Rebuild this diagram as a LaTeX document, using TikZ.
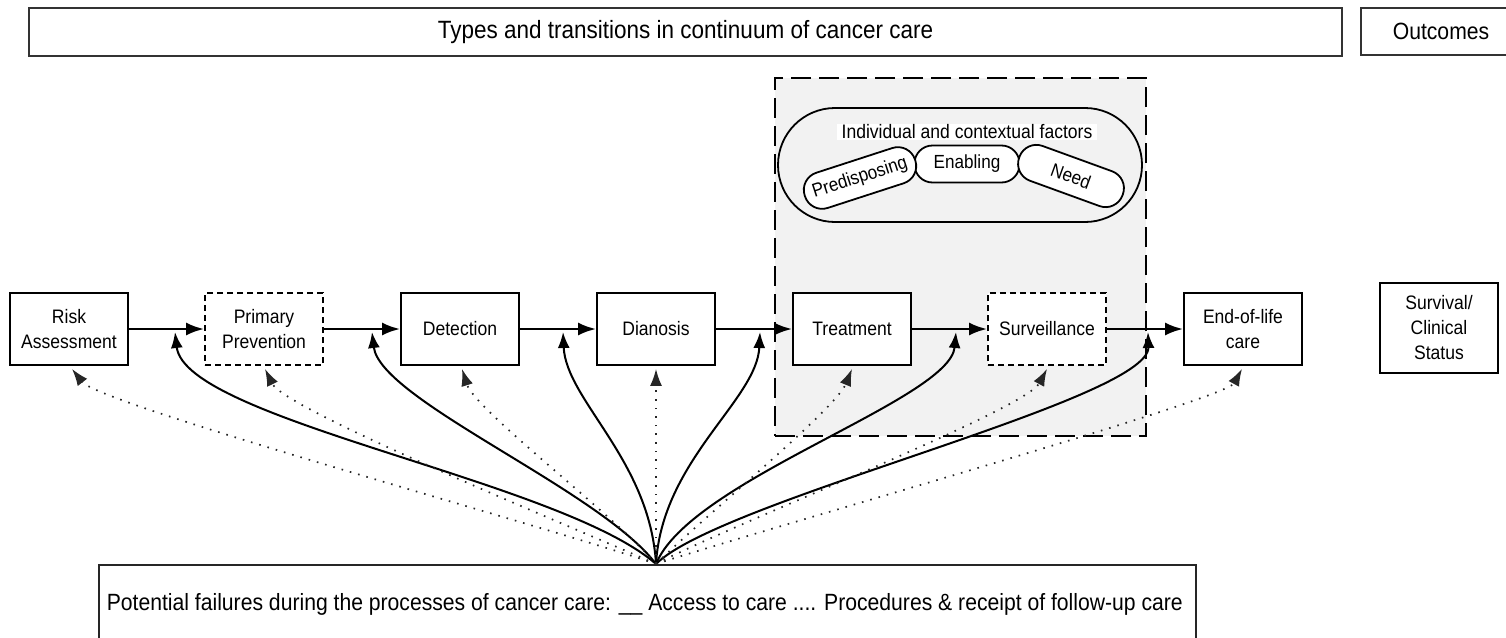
\documentclass[tikz,border=0pt]{standalone}
\usepackage{fontspec}
\setmainfont{Liberation Sans}[FakeStretch=0.9]
\usetikzlibrary{arrows.meta}
\begin{document}
\begin{tikzpicture}[x=1pt,y=-1pt,
  hdr/.style={draw=black!80, line width=1.6pt, inner sep=0pt, font=\fontsize{25}{29}\selectfont},
  stagebox/.style={draw, line width=1.8pt, fill=white, minimum width=118pt, minimum height=72pt,
    align=center, inner sep=2pt, font=\fontsize{19.5}{25}\selectfont},
  dstagebox/.style={stagebox, dash pattern=on 6pt off 4pt},
  pill/.style={draw, line width=1.8pt, fill=white, rounded corners=18pt, minimum height=37pt,
    inner sep=1pt, font=\fontsize{19}{23}\selectfont},
  flow/.style={line width=2.6pt, -{Latex[length=18pt,width=13pt]}},
  access/.style={line width=2pt, -{Latex[length=16pt,width=12pt]}},
  proc/.style={line width=1.7pt, black!85, dash pattern=on 1.6pt off 7pt, -{Latex[length=17pt,width=12pt]}}
]
\useasboundingbox (0,0) rectangle (1506,637);

% headers
\node[hdr, minimum width=1313pt, minimum height=48pt] (types) at (685.5,32) {Types and transitions in continuum of cancer care};
\node[hdr, minimum width=160pt, minimum height=47pt, font=\fontsize{23.5}{27}\selectfont] (outc) at (1441,31.5) {Outcomes};

% grouping frame
\node[draw, fill=black!5, line width=2.2pt, dash pattern=on 20pt off 8pt,
      minimum width=371pt, minimum height=358pt, inner sep=0pt] (grp) at (960.5,257) {};

% contextual factors
\node[draw, line width=1.8pt, minimum width=364pt, minimum height=114pt, rounded corners=57pt, inner sep=0pt] (ctx) at (960,165) {};
\node[fill=white, inner xsep=5pt, inner ysep=1pt, font=\fontsize{19.5}{23}\selectfont] (ctxt) at (967,132) {Individual and contextual factors};
\node[pill, minimum width=105pt] (enab) at (967,164) {Enabling};
\node[pill, minimum width=116pt, rotate=18] (pred) at (860,178) {Predisposing};
\node[pill, minimum width=110pt, rotate=-20] (need) at (1071,176) {Need};

% stages
\node[stagebox] (risk) at (69,329) {Risk\\Assessment};
\node[dstagebox] (prim) at (264,329) {Primary\\Prevention};
\node[stagebox] (det) at (460,329) {Detection};
\node[stagebox] (dia) at (656,329) {Dianosis};
\node[stagebox] (tre) at (852,329) {Treatment};
\node[dstagebox] (sur) at (1047,329) {Surveillance};
\node[stagebox] (eol) at (1243,329) {End-of-life\\care};
\node[stagebox, minimum height=90pt] (surv) at (1439,328) {Survival/\\Clinical\\Status};

% failures box
\node[draw=black!85, line width=1.6pt, anchor=north west, minimum height=80pt,
      inner xsep=8pt, font=\fontsize{23.5}{28}\selectfont] (fail) at (98,564)
  {\makebox[1081pt][l]{Potential failures during the processes of cancer care: \_\_ Access to care .... Procedures \& receipt of follow-up care}};

% transitions
\draw[flow] (risk) -- (prim);
\draw[flow] (prim) -- (det);
\draw[flow] (det) -- (dia);
\draw[flow] (dia) -- (tre);
\draw[flow] (tre) -- (sur);
\draw[flow] (sur) -- (eol);

% junctions on transitions
\coordinate (src) at (fail.north -| dia.south);
\coordinate (j1) at (175,332);
\coordinate (j2) at (372,332);
\coordinate (j3) at (563,332);
\coordinate (j4) at (760,332);
\coordinate (j5) at (956,332);
\coordinate (j6) at (1148,332);

% access to care (solid)
\draw[access] (src) .. controls (560,480) and (185,420) .. (j1);
\draw[access] (src) .. controls (600,490) and (380,400) .. (j2);
\draw[access] (src) .. controls (650,460) and (566,400) .. (j3);
\draw[access] (src) .. controls (662,460) and (757,400) .. (j4);
\draw[access] (src) .. controls (690,480) and (950,400) .. (j5);
\draw[access] (src) .. controls (720,500) and (1150,400) .. (j6);

% procedures & follow-up (dotted)
\draw[proc] (src) .. controls (560,530) and (100,405) .. ([xshift=3pt,yshift=-3pt]risk.south);
\draw[proc] (src) .. controls (580,530) and (285,410) .. ([xshift=1pt,yshift=-3pt]prim.south);
\draw[proc] (src) .. controls (620,520) and (475,410) .. ([xshift=2pt,yshift=-3pt]det.south);
\draw[proc] (src) -- ([yshift=-3pt]dia.south);
\draw[proc] (src) .. controls (700,520) and (835,410) .. ([yshift=-3pt]tre.south);
\draw[proc] (src) .. controls (730,525) and (1025,410) .. ([yshift=-3pt]sur.south);
\draw[proc] (src) .. controls (760,530) and (1225,400) .. ([xshift=-1pt,yshift=-3pt]eol.south);
\end{tikzpicture}
\end{document}
